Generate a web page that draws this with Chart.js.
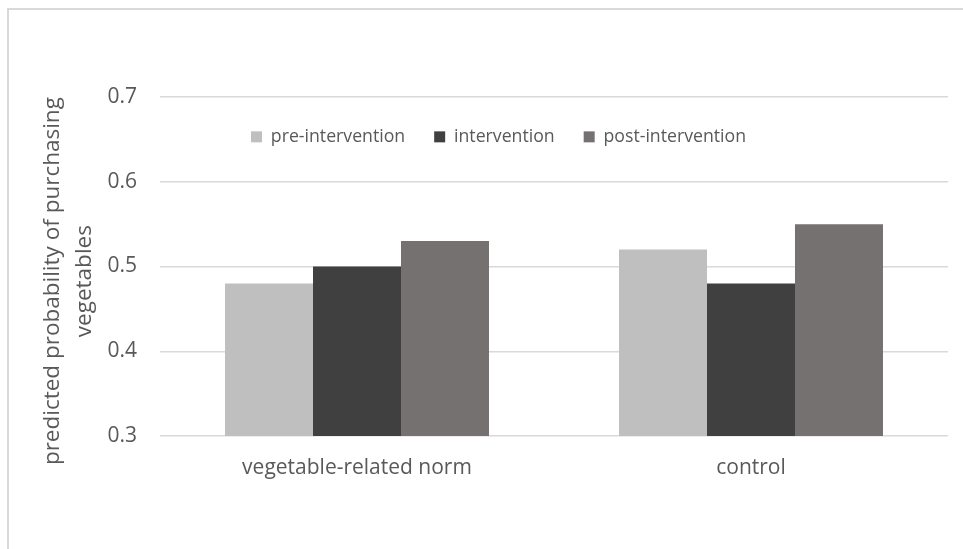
<!DOCTYPE html>
<html>
<head>
<meta charset="utf-8">
<script src="https://cdn.jsdelivr.net/npm/chart.js@4"></script>
<style>
  html, body { margin:0; padding:0; background:#fff; }
  #wrap { position:relative; width:963px; height:549px; }
  #frame { position:absolute; left:7px; top:8px; right:0; bottom:0; border-left:2px solid #D9D9D9; border-top:2px solid #D9D9D9; pointer-events:none; }
</style>
</head>
<body>
<div id="wrap">
  <canvas id="c" width="963" height="549"></canvas>
  <div id="frame"></div>
</div>
<script>
const categories = ["vegetable-related norm", "control"];
const seriesNames = ["pre-intervention", "intervention", "post-intervention"];
const preValues = [0.48, 0.52];
const interventionValues = [0.50, 0.48];
const postValues = [0.53, 0.55];
const yTicks = [0.3, 0.4, 0.5, 0.6, 0.7];
const yTitle = ["predicted probability of purchasing", "vegetables"];

const colors = ["#BFBFBF", "#404040", "#767171"];
const FONT = "'Open Sans', sans-serif";
const TXT = "#595959";
const NB = "\u00A0\u00A0\u00A0\u00A0\u00A0";
const LEGEND_INSET_X = 62;
const LEGEND_INSET_Y = 2;

const chart = new Chart(document.getElementById('c'), {
  type: 'bar',
  data: {
    labels: categories,
    datasets: [
      { label: seriesNames[0], data: preValues, backgroundColor: colors[0] },
      { label: seriesNames[1], data: interventionValues, backgroundColor: colors[1] },
      { label: seriesNames[2], data: postValues, backgroundColor: colors[2] }
    ]
  },
  options: {
    responsive: false,
    animation: false,
    layout: { padding: { top: 97, right: 15, left: 0, bottom: 0 } },
    datasets: { bar: { categoryPercentage: 0.67, barPercentage: 1.0, borderWidth: 0 } },
    plugins: {
      legend: {
        position: 'chartArea',
        align: 'start',
        labels: {
          boxWidth: 11, boxHeight: 11, padding: 29,
          color: TXT, font: { family: FONT, size: 17.7 }
        }
      },
      tooltip: { enabled: false }
    },
    scales: {
      x: {
        grid: { display: false, drawTicks: false },
        border: { display: false },
        ticks: { color: TXT, font: { family: FONT, size: 21 }, padding: 19 },
        afterFit: s => { s.height = 113; }
      },
      y: {
        min: 0.3, max: 0.7,
        afterBuildTicks: s => { s.ticks = yTicks.map(v => ({ value: v })); },
        grid: { color: '#D9D9D9', lineWidth: 1.5, drawTicks: false },
        border: { display: false },
        ticks: { color: TXT, font: { family: FONT, size: 21 }, padding: 23, callback: v => v.toFixed(1) },
        title: {
          display: true,
          text: yTitle.map(t => t + NB),
          color: TXT,
          font: { family: FONT, size: 22.5, lineHeight: 1.42 },
          padding: { top: 37, bottom: 0 }
        },
        afterFit: s => { s.width = 160; }
      }
    }
  }
});
// lay the in-plot legend out as a single horizontal row inside the plot area
const lg = chart.legend;
const origSetDims = lg.setDimensions.bind(lg);
lg.isHorizontal = () => true;
lg.setDimensions = function () {
  origSetDims();
  const ca = chart.chartArea;
  this.left = ca.left + LEGEND_INSET_X;
  this.right = ca.right;
  this.width = this.right - this.left;
  this.top = ca.top + LEGEND_INSET_Y;
};
chart.update();
</script>
</body>
</html>
